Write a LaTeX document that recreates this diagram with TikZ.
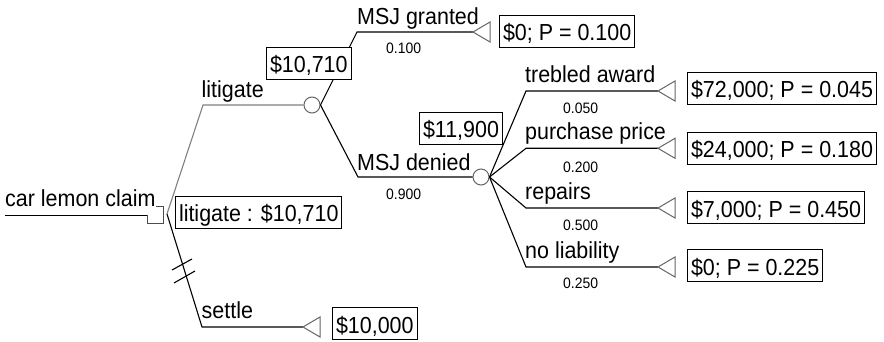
\documentclass[tikz,border=0pt]{standalone}
\usepackage{fontspec}
\setmainfont{Liberation Sans}[FakeStretch=0.925]
\newcommand{\mainsz}{\fontsize{23.2}{27}\selectfont}
\newcommand{\probsz}{\fontsize{15.1}{18}\selectfont}
\begin{document}
\begin{tikzpicture}[x=1pt,y=-1pt,
  conn/.style={line width=1.1pt, black},
  litconn/.style={line width=1.1pt, black!50},
  chance/.style={circle, draw=black!60, line width=1pt, minimum size=16pt, inner sep=0pt, fill=white},
  decision/.style={rectangle, draw=black!70, line width=1pt, minimum width=16pt, minimum height=17pt, inner sep=0pt},
  term/.style={draw=black!60, line width=1pt},
  valbox/.style={draw=black, line width=1pt, fill=white, anchor=south west, font=\mainsz, inner xsep=3.5pt, inner ysep=3pt, text height=22.5pt, text depth=3.5pt},
  lbl/.style={anchor=base west, inner sep=0pt, font=\mainsz},
  prob/.style={anchor=base west, inner sep=0pt, font=\probsz}
]
\useasboundingbox (0,0) rectangle (884,342);

% decision node
\node[decision] (d) at (155,214.5) {};
\node[anchor=base west, inner xsep=1pt, inner ysep=0pt, text depth=9pt, fill=white, font=\mainsz] (root) at (4,206) {car lemon claim};
\coordinate (r0) at (5,215.7);
\draw[conn] (r0) -- (d.west |- r0);

% chance nodes
\node[chance] (c1) at (312,105) {};
\node[chance] (c2) at (481,177) {};

% corner coordinates
\coordinate (d0) at (167,214);
\coordinate (k1) at (203,105);
\coordinate (k2) at (202,327);
\coordinate (g1) at (357,32);
\coordinate (g2) at (358,177);
\coordinate (b1) at (526,91);
\coordinate (b2) at (526,148.3);
\coordinate (b3) at (526,208);
\coordinate (b4) at (526,267);

% terminal tips
\coordinate (t0) at (303,327);
\coordinate (t1) at (473,32);
\coordinate (t3) at (658,91);
\coordinate (t4) at (658,148.3);
\coordinate (t5) at (658,208);
\coordinate (t6) at (658,267);

% connectors
\draw[litconn] (d0) -- (k1) -- (c1.west);
\draw[conn] (d0) -- (k2) -- (t0);
\draw[conn] (c1.east) -- (g1) -- (t1);
\draw[conn] (c1.east) -- (g2) -- (c2.west);
\draw[conn] (c2.east) -- (b1) -- (t3);
\draw[conn] (c2.east) -- (b2) -- (t4);
\draw[conn] (c2.east) -- (b3) -- (t5);
\draw[conn] (c2.east) -- (b4) -- (t6);

% hash marks on settle
\coordinate (h1a) at (172,270); \coordinate (h1b) at (192,259);
\coordinate (h2a) at (174,283); \coordinate (h2b) at (195,271);
\draw[conn] (h1a) -- (h1b);
\draw[conn] (h2a) -- (h2b);

% terminal triangles
\foreach \t in {t0,t1,t3,t4,t5,t6}{
  \draw[term] (\t) -- ++(17,-10) -- ++(0,20) -- cycle;
}

% branch labels
\node[lbl] (l1) at (201.5,97.7) {litigate};
\node[lbl] (l2) at (201.5,318) {settle};
\node[lbl] (l3) at (357,25) {MSJ granted};
\node[lbl] (l4) at (357,170.5) {MSJ denied};
\node[lbl] (l5) at (525,82.7) {trebled award};
\node[lbl] (l6) at (525,140) {purchase price};
\node[lbl] (l7) at (525,199.7) {repairs};
\node[lbl] (l8) at (525,258.7) {no liability};

% probabilities
\node[prob] (p1) at (386,54) {0.100};
\node[prob] (p2) at (386,199.5) {0.900};
\node[prob] (p3) at (563,114) {0.050};
\node[prob] (p4) at (563,172) {0.200};
\node[prob] (p5) at (563,230) {0.500};
\node[prob] (p6) at (563,288.3) {0.250};

% value boxes
\node[valbox] (v1) at (266,80) {\$10,710};
\node[valbox] (v2) at (419,145) {\$11,900};
\node[valbox] (v3) at (175,229) {litigate : \$10,710};
\node[valbox] (e1) at (499,48) {\$0; P = 0.100};
\node[valbox] (e2) at (687,105) {\$72,000; P = 0.045};
\node[valbox] (e3) at (687,165) {\$24,000; P = 0.180};
\node[valbox] (e4) at (687,224) {\$7,000; P = 0.450};
\node[valbox] (e5) at (687,282) {\$0; P = 0.225};
\node[valbox] (e0) at (332,340) {\$10,000};
\end{tikzpicture}
\end{document}
